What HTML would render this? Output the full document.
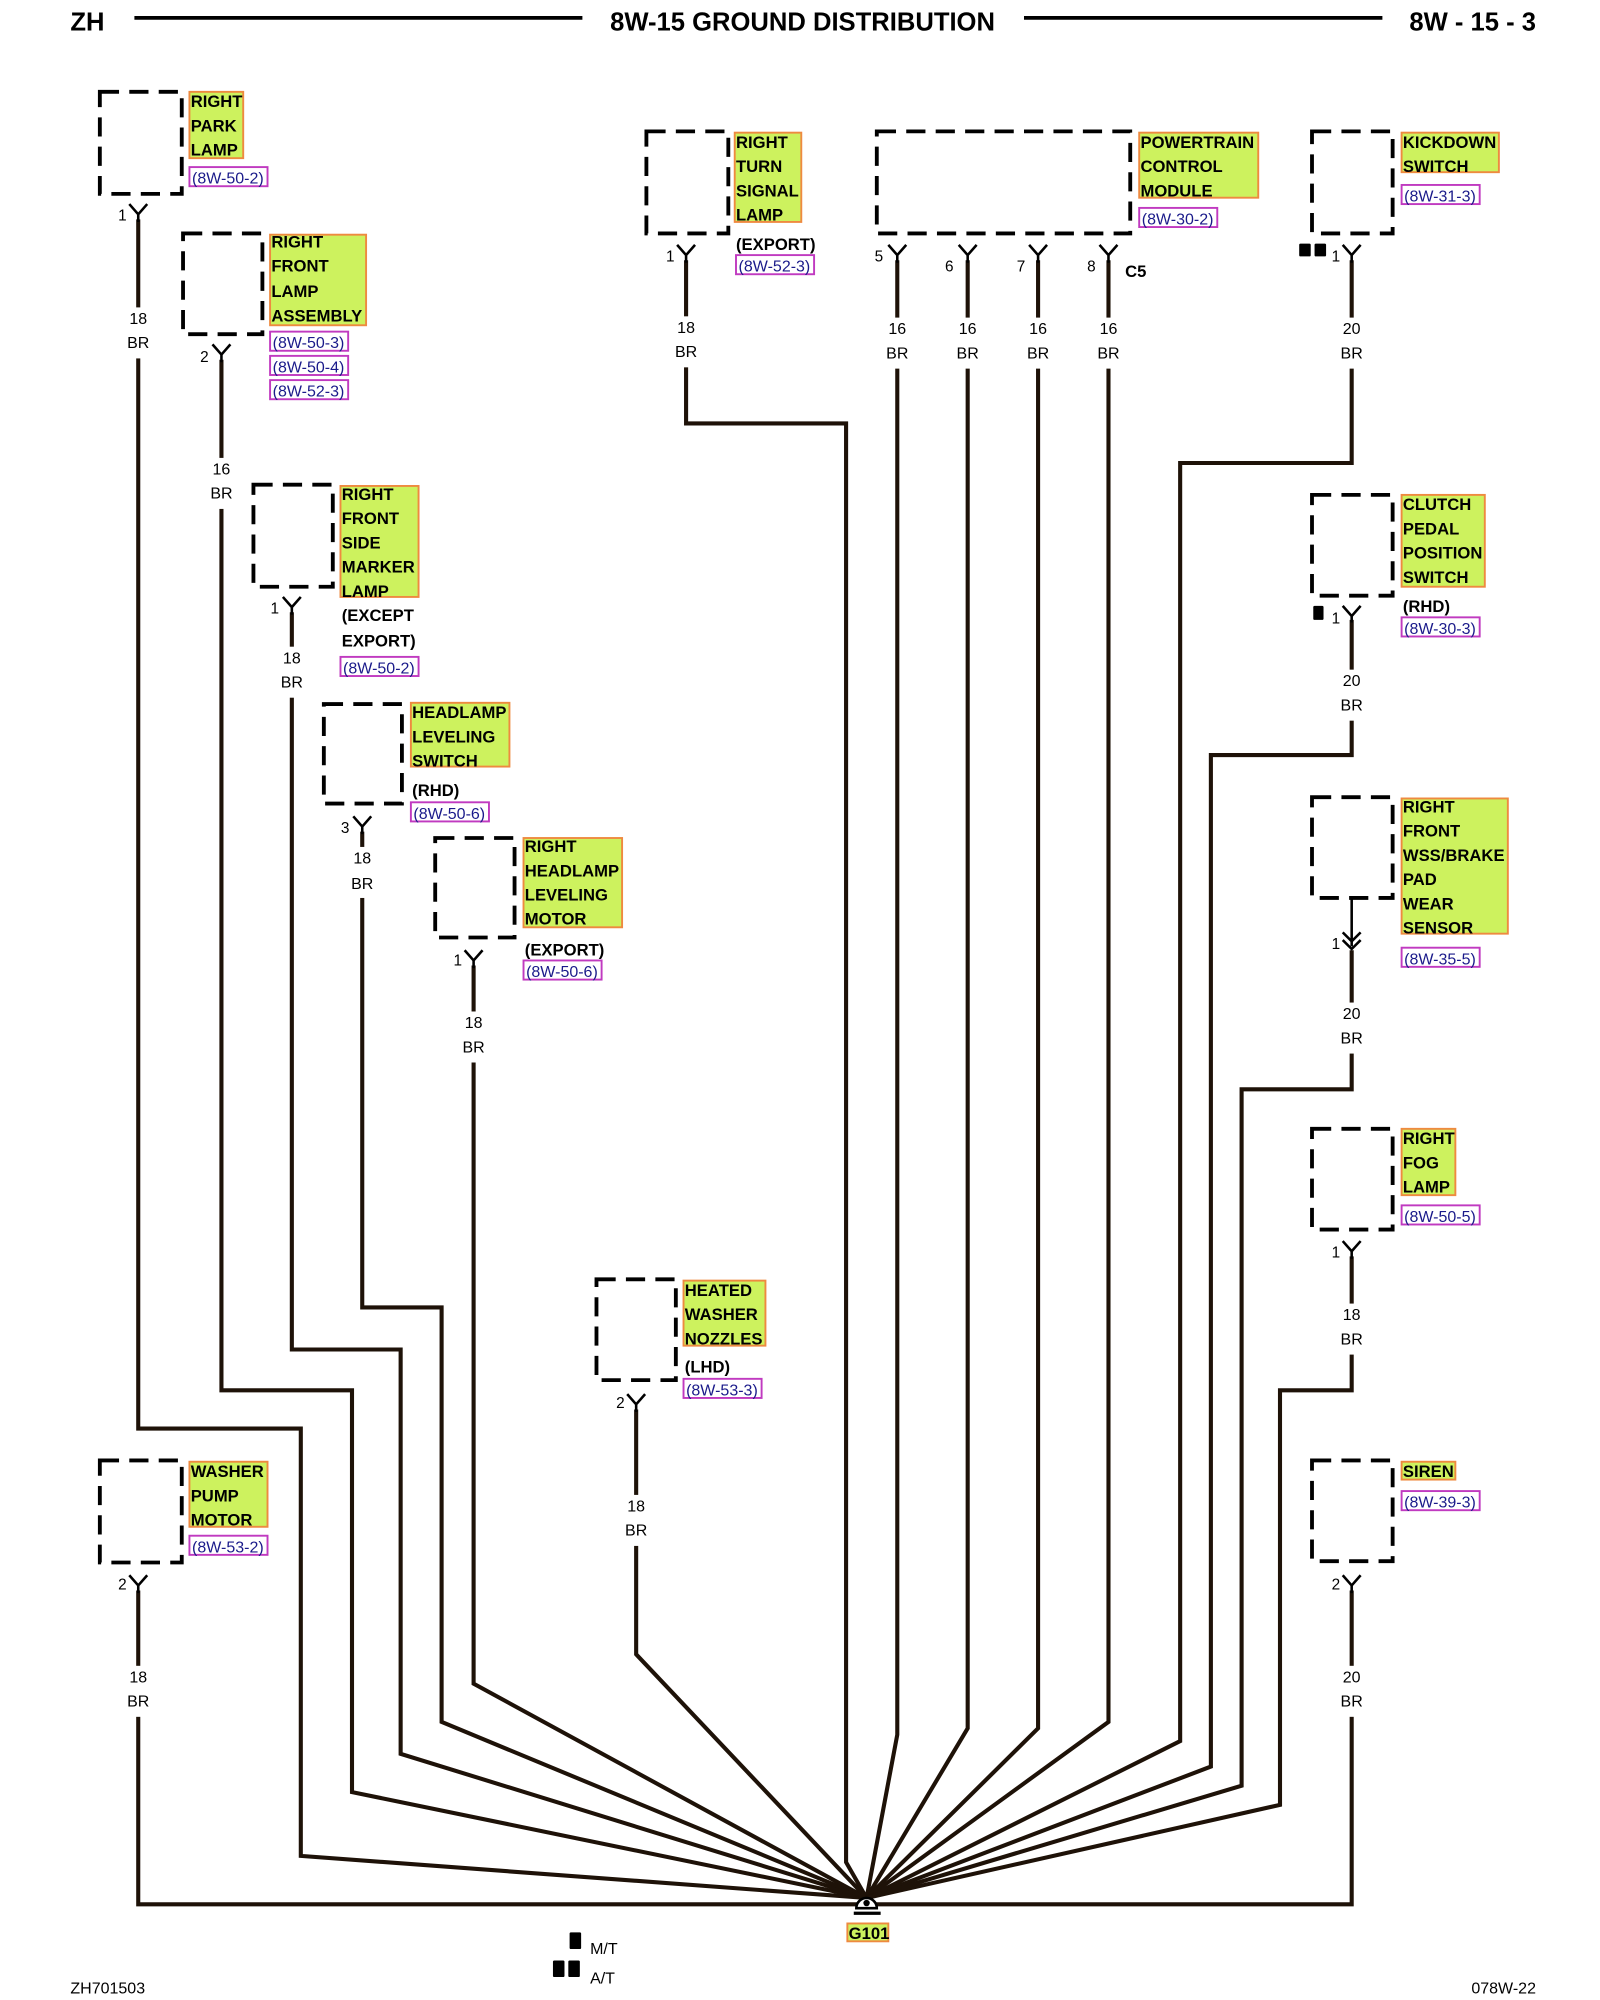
<!DOCTYPE html>
<html><head><meta charset="utf-8"><style>
html,body{margin:0;padding:0;background:#fff;}
svg{display:block;}
.h{font-family:"Liberation Sans",sans-serif;font-weight:bold;font-size:20px;fill:#000;}
.l{font-family:"Liberation Sans",sans-serif;font-weight:bold;font-size:13px;fill:#000;}
.r{font-family:"Liberation Sans",sans-serif;font-size:12.5px;fill:#1a1a8a;}
.w{font-family:"Liberation Sans",sans-serif;font-size:12.5px;fill:#000;text-anchor:middle;}
.n{font-family:"Liberation Sans",sans-serif;font-size:12px;fill:#000;text-anchor:end;}
.box{fill:none;stroke:#000;stroke-width:3;stroke-dasharray:15,8;}
.lb{fill:#cdf25e;stroke:#ee8a40;stroke-width:1.5;}
.rb{fill:#fff;stroke:#c03ac0;stroke-width:1.5;}
.wire{fill:none;stroke:#1e1208;stroke-width:3.2;stroke-linejoin:miter;}
.gap{fill:#fff;}
.y{fill:none;stroke:#000;stroke-width:2;}
</style></head><body>
<svg width="1600" height="2000" viewBox="0 0 1250 1568" preserveAspectRatio="none" xmlns="http://www.w3.org/2000/svg">
<!-- header -->
<text x="55" y="24" class="h">ZH</text>
<line x1="105" y1="14" x2="455" y2="14" stroke="#000" stroke-width="3"/>
<text x="627" y="24" class="h" text-anchor="middle">8W-15 GROUND DISTRIBUTION</text>
<line x1="800" y1="14" x2="1080" y2="14" stroke="#000" stroke-width="3"/>
<text x="1200" y="24" class="h" text-anchor="end">8W - 15 - 3</text>

<!-- wires -->
<g class="wire">
<polyline points="108,172 108,1120 235,1120 235,1455 677,1488"/>
<polyline points="173,282 173,1090 275,1090 275,1405 677,1488"/>
<polyline points="228,480 228,1058 313,1058 313,1375 677,1488"/>
<polyline points="283,652 283,1025 345,1025 345,1350 677,1488"/>
<polyline points="370,757 370,1320 677,1488"/>
<polyline points="497,1105 497,1297 677,1488"/>
<polyline points="536,204 536,332 661,332 661,1460 677,1488"/>
<polyline points="701,204 701,1360 677,1488"/>
<polyline points="756,204 756,1355 677,1488"/>
<polyline points="811,204 811,1355 677,1488"/>
<polyline points="866,204 866,1350 677,1488"/>
<polyline points="1056,204 1056,363 922,363 922,1365 677,1488"/>
<polyline points="1056,486 1056,592 946,592 946,1385 677,1488"/>
<polyline points="1056,745 1056,854 970,854 970,1400 677,1488"/>
<polyline points="1056,985 1056,1090 1000,1090 1000,1415 677,1488"/>
<polyline points="1056,1247 1056,1493 677,1493"/>
<polyline points="108,1247 108,1493 677,1493"/>
</g>

<!-- wire label gaps + labels -->
<g>
<rect class="gap" x="96" y="241" width="24" height="40"/><text class="w" x="108" y="254">18</text><text class="w" x="108" y="273">BR</text>
<rect class="gap" x="161" y="359" width="24" height="40"/><text class="w" x="173" y="372">16</text><text class="w" x="173" y="391">BR</text>
<rect class="gap" x="216" y="507" width="24" height="40"/><text class="w" x="228" y="520">18</text><text class="w" x="228" y="539">BR</text>
<rect class="gap" x="271" y="664" width="24" height="40"/><text class="w" x="283" y="677">18</text><text class="w" x="283" y="697">BR</text>
<rect class="gap" x="358" y="793" width="24" height="40"/><text class="w" x="370" y="806">18</text><text class="w" x="370" y="825">BR</text>
<rect class="gap" x="524" y="248" width="24" height="40"/><text class="w" x="536" y="261">18</text><text class="w" x="536" y="280">BR</text>
<rect class="gap" x="689" y="249" width="24" height="40"/><text class="w" x="701" y="262">16</text><text class="w" x="701" y="281">BR</text>
<rect class="gap" x="744" y="249" width="24" height="40"/><text class="w" x="756" y="262">16</text><text class="w" x="756" y="281">BR</text>
<rect class="gap" x="799" y="249" width="24" height="40"/><text class="w" x="811" y="262">16</text><text class="w" x="811" y="281">BR</text>
<rect class="gap" x="854" y="249" width="24" height="40"/><text class="w" x="866" y="262">16</text><text class="w" x="866" y="281">BR</text>
<rect class="gap" x="1044" y="249" width="24" height="40"/><text class="w" x="1056" y="262">20</text><text class="w" x="1056" y="281">BR</text>
<rect class="gap" x="1044" y="525" width="24" height="40"/><text class="w" x="1056" y="538">20</text><text class="w" x="1056" y="557">BR</text>
<rect class="gap" x="1044" y="786" width="24" height="40"/><text class="w" x="1056" y="799">20</text><text class="w" x="1056" y="818">BR</text>
<rect class="gap" x="1044" y="1022" width="24" height="40"/><text class="w" x="1056" y="1035">18</text><text class="w" x="1056" y="1054">BR</text>
<rect class="gap" x="1044" y="1306" width="24" height="40"/><text class="w" x="1056" y="1319">20</text><text class="w" x="1056" y="1338">BR</text>
<rect class="gap" x="485" y="1172" width="24" height="40"/><text class="w" x="497" y="1185">18</text><text class="w" x="497" y="1204">BR</text>
<rect class="gap" x="96" y="1306" width="24" height="40"/><text class="w" x="108" y="1319">18</text><text class="w" x="108" y="1338">BR</text>
</g>

<!-- component boxes -->
<g>
<rect class="box" x="78" y="72" width="64" height="80"/>
<rect class="box" x="143" y="183" width="62" height="79"/>
<rect class="box" x="198" y="380" width="62" height="80"/>
<rect class="box" x="253" y="552" width="61" height="78"/>
<rect class="box" x="340" y="657" width="62" height="78"/>
<rect class="box" x="505" y="103" width="64" height="80"/>
<rect class="box" x="685" y="103" width="198" height="80"/>
<rect class="box" x="1025" y="103" width="63" height="80"/>
<rect class="box" x="1025" y="388" width="63" height="79"/>
<rect class="box" x="1025" y="625" width="63" height="79"/>
<rect class="box" x="1025" y="885" width="63" height="79"/>
<rect class="box" x="1025" y="1145" width="63" height="79"/>
<rect class="box" x="466" y="1003" width="62" height="79"/>
<rect class="box" x="78" y="1145" width="64" height="80"/>
</g>

<!-- Y connectors + pin numbers -->
<g class="y">
<path d="M101,160 L108,168 L115,160 M108,168 V174"/>
<path d="M166,270 L173,278 L180,270 M173,278 V284"/>
<path d="M221,468 L228,476 L235,468 M228,476 V482"/>
<path d="M276,640 L283,648 L290,640 M283,648 V654"/>
<path d="M363,745 L370,753 L377,745 M370,753 V759"/>
<path d="M529,192 L536,200 L543,192 M536,200 V206"/>
<path d="M694,192 L701,200 L708,192 M701,200 V206"/>
<path d="M749,192 L756,200 L763,192 M756,200 V206"/>
<path d="M804,192 L811,200 L818,192 M811,200 V206"/>
<path d="M859,192 L866,200 L873,192 M866,200 V206"/>
<path d="M1049,192 L1056,200 L1063,192 M1056,200 V206"/>
<path d="M1049,475 L1056,483 L1063,475 M1056,483 V488"/>
<path d="M1056,704 V742 M1049,731 L1056,738 L1063,731 M1049,737 L1056,744 L1063,737"/>
<path d="M1049,973 L1056,981 L1063,973 M1056,981 V987"/>
<path d="M1049,1235 L1056,1243 L1063,1235 M1056,1243 V1249"/>
<path d="M490,1093 L497,1101 L504,1093 M497,1101 V1107"/>
<path d="M101,1235 L108,1243 L115,1235 M108,1243 V1249"/>
</g>
<g>
<text class="n" x="99" y="173">1</text>
<text class="n" x="163" y="284">2</text>
<text class="n" x="218" y="481">1</text>
<text class="n" x="273" y="653">3</text>
<text class="n" x="361" y="757">1</text>
<text class="n" x="527" y="205">1</text>
<text class="n" x="690" y="205">5</text>
<text class="n" x="745" y="213">6</text>
<text class="n" x="801" y="213">7</text>
<text class="n" x="856" y="213">8</text>
<text class="l" x="879" y="217">C5</text>
<text class="n" x="1047" y="205">1</text>
<text class="n" x="1047" y="489">1</text>
<text class="n" x="1047" y="744">1</text>
<text class="n" x="1047" y="986">1</text>
<text class="n" x="1047" y="1246">2</text>
<text class="n" x="488" y="1104">2</text>
<text class="n" x="99" y="1246">2</text>
<rect x="1015" y="191" width="9" height="10" rx="1"/><rect x="1027" y="191" width="9" height="10" rx="1"/>
<rect x="1026" y="475" width="8" height="11" rx="1"/>
</g>

<!-- labels -->
<g>
<rect class="lb" x="148" y="72" width="42" height="52"/>
<text class="l" x="149" y="84">RIGHT</text><text class="l" x="149" y="103">PARK</text><text class="l" x="149" y="122">LAMP</text>
<rect class="rb" x="148" y="131" width="61" height="15"/><text class="r" x="150" y="144">(8W-50-2)</text>

<rect class="lb" x="211" y="184" width="75" height="71"/>
<text class="l" x="212" y="194">RIGHT</text><text class="l" x="212" y="213">FRONT</text><text class="l" x="212" y="233">LAMP</text><text class="l" x="212" y="252">ASSEMBLY</text>
<rect class="rb" x="211" y="260" width="61" height="15"/><text class="r" x="213" y="273">(8W-50-3)</text>
<rect class="rb" x="211" y="279" width="61" height="15"/><text class="r" x="213" y="292">(8W-50-4)</text>
<rect class="rb" x="211" y="298" width="61" height="15"/><text class="r" x="213" y="311">(8W-52-3)</text>

<rect class="lb" x="266" y="381" width="61" height="87"/>
<text class="l" x="267" y="392">RIGHT</text><text class="l" x="267" y="411">FRONT</text><text class="l" x="267" y="430">SIDE</text><text class="l" x="267" y="449">MARKER</text><text class="l" x="267" y="468">LAMP</text>
<text class="l" x="267" y="487">(EXCEPT</text><text class="l" x="267" y="507">EXPORT)</text>
<rect class="rb" x="266" y="515" width="61" height="15"/><text class="r" x="268" y="528">(8W-50-2)</text>

<rect class="lb" x="321" y="551" width="77" height="50"/>
<text class="l" x="322" y="563">HEADLAMP</text><text class="l" x="322" y="582">LEVELING</text><text class="l" x="322" y="601">SWITCH</text>
<text class="l" x="322" y="624">(RHD)</text>
<rect class="rb" x="321" y="629" width="61" height="15"/><text class="r" x="323" y="642">(8W-50-6)</text>

<rect class="lb" x="409" y="657" width="77" height="70"/>
<text class="l" x="410" y="668">RIGHT</text><text class="l" x="410" y="687">HEADLAMP</text><text class="l" x="410" y="706">LEVELING</text><text class="l" x="410" y="725">MOTOR</text>
<text class="l" x="410" y="749">(EXPORT)</text>
<rect class="rb" x="409" y="753" width="61" height="15"/><text class="r" x="411" y="766">(8W-50-6)</text>

<rect class="lb" x="574" y="104" width="52" height="70"/>
<text class="l" x="575" y="116">RIGHT</text><text class="l" x="575" y="135">TURN</text><text class="l" x="575" y="154">SIGNAL</text><text class="l" x="575" y="173">LAMP</text>
<text class="l" x="575" y="196">(EXPORT)</text>
<rect class="rb" x="575" y="200" width="61" height="15"/><text class="r" x="577" y="213">(8W-52-3)</text>

<rect class="lb" x="890" y="104" width="93" height="51"/>
<text class="l" x="891" y="116">POWERTRAIN</text><text class="l" x="891" y="135">CONTROL</text><text class="l" x="891" y="154">MODULE</text>
<rect class="rb" x="890" y="163" width="61" height="15"/><text class="r" x="892" y="176">(8W-30-2)</text>

<rect class="lb" x="1095" y="104" width="76" height="31"/>
<text class="l" x="1096" y="116">KICKDOWN</text><text class="l" x="1096" y="135">SWITCH</text>
<rect class="rb" x="1095" y="145" width="61" height="15"/><text class="r" x="1097" y="158">(8W-31-3)</text>

<rect class="lb" x="1095" y="388" width="65" height="72"/>
<text class="l" x="1096" y="400">CLUTCH</text><text class="l" x="1096" y="419">PEDAL</text><text class="l" x="1096" y="438">POSITION</text><text class="l" x="1096" y="457">SWITCH</text>
<text class="l" x="1096" y="480">(RHD)</text>
<rect class="rb" x="1095" y="484" width="61" height="15"/><text class="r" x="1097" y="497">(8W-30-3)</text>

<rect class="lb" x="1095" y="626" width="83" height="106"/>
<text class="l" x="1096" y="637">RIGHT</text><text class="l" x="1096" y="656">FRONT</text><text class="l" x="1096" y="675">WSS/BRAKE</text><text class="l" x="1096" y="694">PAD</text><text class="l" x="1096" y="713">WEAR</text><text class="l" x="1096" y="732">SENSOR</text>
<rect class="rb" x="1095" y="743" width="61" height="15"/><text class="r" x="1097" y="756">(8W-35-5)</text>

<rect class="lb" x="1095" y="885" width="42" height="52"/>
<text class="l" x="1096" y="897">RIGHT</text><text class="l" x="1096" y="916">FOG</text><text class="l" x="1096" y="935">LAMP</text>
<rect class="rb" x="1095" y="945" width="61" height="15"/><text class="r" x="1097" y="958">(8W-50-5)</text>

<rect class="lb" x="1095" y="1146" width="42" height="14"/>
<text class="l" x="1096" y="1158">SIREN</text>
<rect class="rb" x="1095" y="1169" width="61" height="15"/><text class="r" x="1097" y="1182">(8W-39-3)</text>

<rect class="lb" x="534" y="1004" width="64" height="51"/>
<text class="l" x="535" y="1016">HEATED</text><text class="l" x="535" y="1035">WASHER</text><text class="l" x="535" y="1054">NOZZLES</text>
<text class="l" x="535" y="1076">(LHD)</text>
<rect class="rb" x="534" y="1081" width="61" height="15"/><text class="r" x="536" y="1094">(8W-53-3)</text>

<rect class="lb" x="148" y="1146" width="61" height="51"/>
<text class="l" x="149" y="1158">WASHER</text><text class="l" x="149" y="1177">PUMP</text><text class="l" x="149" y="1196">MOTOR</text>
<rect class="rb" x="148" y="1204" width="61" height="15"/><text class="r" x="150" y="1217">(8W-53-2)</text>
</g>

<!-- ground -->
<path d="M669,1496 A8,8 0 0 1 685,1496 Z" fill="#fff" stroke="#000" stroke-width="2"/>
<circle cx="677" cy="1492" r="2.5" fill="#000"/>
<line x1="667" y1="1500" x2="688" y2="1500" stroke="#000" stroke-width="2.5"/>
<rect class="lb" x="662" y="1508" width="32" height="14"/>
<text class="l" x="663" y="1520">G101</text>

<!-- legend -->
<rect x="445" y="1515" width="9" height="13" rx="1"/>
<text x="461" y="1532" font-family="Liberation Sans,sans-serif" font-size="12.5">M/T</text>
<rect x="432" y="1537" width="9" height="13" rx="1"/><rect x="444" y="1537" width="9" height="13" rx="1"/>
<text x="461" y="1555" font-family="Liberation Sans,sans-serif" font-size="12.5">A/T</text>

<text x="55" y="1563" font-family="Liberation Sans,sans-serif" font-size="12.5">ZH701503</text>
<text x="1200" y="1563" font-family="Liberation Sans,sans-serif" font-size="12.5" text-anchor="end">078W-22</text>
</svg>
</body></html>
